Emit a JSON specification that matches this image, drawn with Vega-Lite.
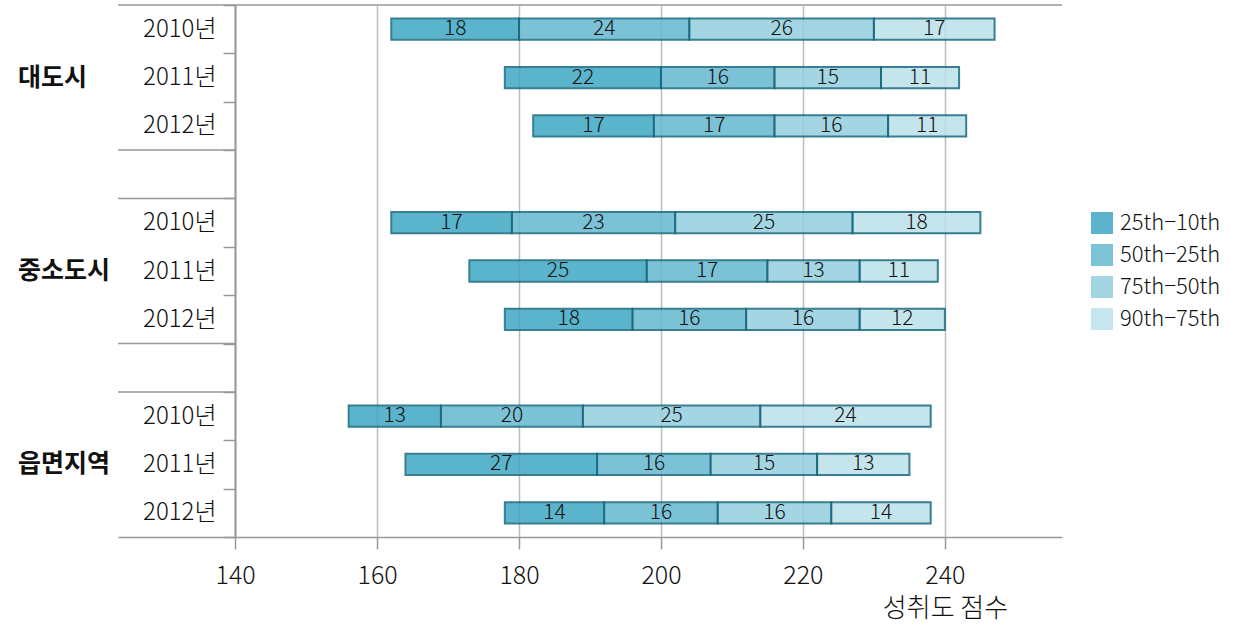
{
  "$schema": "https://vega.github.io/schema/vega-lite/v6.json",
  "width": 944,
  "height": 532,
  "autosize": "none",
  "padding": {"left": 118, "top": 5, "right": 178, "bottom": 89},
  "background": "white",
  "config": {
    "font": "Noto Sans CJK KR",
    "view": {"stroke": null}
  },
  "layer": [
    {
      "data": {"values": [
        {"row": "대도시|2010년", "seg": "base", "k": 0, "v": 162},
        {"row": "대도시|2010년", "seg": "25th−10th", "k": 1, "v": 18},
        {"row": "대도시|2010년", "seg": "50th−25th", "k": 2, "v": 24},
        {"row": "대도시|2010년", "seg": "75th−50th", "k": 3, "v": 26},
        {"row": "대도시|2010년", "seg": "90th−75th", "k": 4, "v": 17},
        {"row": "대도시|2011년", "seg": "base", "k": 0, "v": 178},
        {"row": "대도시|2011년", "seg": "25th−10th", "k": 1, "v": 22},
        {"row": "대도시|2011년", "seg": "50th−25th", "k": 2, "v": 16},
        {"row": "대도시|2011년", "seg": "75th−50th", "k": 3, "v": 15},
        {"row": "대도시|2011년", "seg": "90th−75th", "k": 4, "v": 11},
        {"row": "대도시|2012년", "seg": "base", "k": 0, "v": 182},
        {"row": "대도시|2012년", "seg": "25th−10th", "k": 1, "v": 17},
        {"row": "대도시|2012년", "seg": "50th−25th", "k": 2, "v": 17},
        {"row": "대도시|2012년", "seg": "75th−50th", "k": 3, "v": 16},
        {"row": "대도시|2012년", "seg": "90th−75th", "k": 4, "v": 11},
        {"row": "중소도시|2010년", "seg": "base", "k": 0, "v": 162},
        {"row": "중소도시|2010년", "seg": "25th−10th", "k": 1, "v": 17},
        {"row": "중소도시|2010년", "seg": "50th−25th", "k": 2, "v": 23},
        {"row": "중소도시|2010년", "seg": "75th−50th", "k": 3, "v": 25},
        {"row": "중소도시|2010년", "seg": "90th−75th", "k": 4, "v": 18},
        {"row": "중소도시|2011년", "seg": "base", "k": 0, "v": 173},
        {"row": "중소도시|2011년", "seg": "25th−10th", "k": 1, "v": 25},
        {"row": "중소도시|2011년", "seg": "50th−25th", "k": 2, "v": 17},
        {"row": "중소도시|2011년", "seg": "75th−50th", "k": 3, "v": 13},
        {"row": "중소도시|2011년", "seg": "90th−75th", "k": 4, "v": 11},
        {"row": "중소도시|2012년", "seg": "base", "k": 0, "v": 178},
        {"row": "중소도시|2012년", "seg": "25th−10th", "k": 1, "v": 18},
        {"row": "중소도시|2012년", "seg": "50th−25th", "k": 2, "v": 16},
        {"row": "중소도시|2012년", "seg": "75th−50th", "k": 3, "v": 16},
        {"row": "중소도시|2012년", "seg": "90th−75th", "k": 4, "v": 12},
        {"row": "읍면지역|2010년", "seg": "base", "k": 0, "v": 156},
        {"row": "읍면지역|2010년", "seg": "25th−10th", "k": 1, "v": 13},
        {"row": "읍면지역|2010년", "seg": "50th−25th", "k": 2, "v": 20},
        {"row": "읍면지역|2010년", "seg": "75th−50th", "k": 3, "v": 25},
        {"row": "읍면지역|2010년", "seg": "90th−75th", "k": 4, "v": 24},
        {"row": "읍면지역|2011년", "seg": "base", "k": 0, "v": 164},
        {"row": "읍면지역|2011년", "seg": "25th−10th", "k": 1, "v": 27},
        {"row": "읍면지역|2011년", "seg": "50th−25th", "k": 2, "v": 16},
        {"row": "읍면지역|2011년", "seg": "75th−50th", "k": 3, "v": 15},
        {"row": "읍면지역|2011년", "seg": "90th−75th", "k": 4, "v": 13},
        {"row": "읍면지역|2012년", "seg": "base", "k": 0, "v": 178},
        {"row": "읍면지역|2012년", "seg": "25th−10th", "k": 1, "v": 14},
        {"row": "읍면지역|2012년", "seg": "50th−25th", "k": 2, "v": 16},
        {"row": "읍면지역|2012년", "seg": "75th−50th", "k": 3, "v": 16},
        {"row": "읍면지역|2012년", "seg": "90th−75th", "k": 4, "v": 14}
      ]},
      "transform": [
        {"stack": "v", "groupby": ["row"], "sort": [{"field": "k", "order": "ascending"}], "as": ["x0", "x1"]},
        {"filter": "datum.seg !== 'base'"},
        {"calculate": "(datum.x0 + datum.x1) / 2", "as": "mid"}
      ],
      "layer": [
        {
          "mark": {"type": "bar", "height": {"band": 0.44}, "stroke": "#15697e", "strokeWidth": 2, "opacity": 0.85},
          "encoding": {
            "x": {
              "field": "x0", "type": "quantitative",
              "scale": {"domain": [123.5, 256.5], "nice": false, "zero": false},
              "title": "성취도 점수",
              "axis": {
                "values": [140, 160, 180, 200, 220, 240],
                "grid": true, "gridColor": "#bdbdbd", "gridWidth": 1.5,
                "domainColor": "#999999", "domainWidth": 1.5,
                "tickColor": "#999999", "tickWidth": 1.5, "tickSize": 12,
                "labelFontSize": 25, "labelFontWeight": 300, "labelColor": "#111111", "labelPadding": 14,
                "titleFontSize": 26, "titleFontWeight": 300, "titleColor": "#111111",
                "titleX": 827, "titleAlign": "center", "titlePadding": 7
              }
            },
            "x2": {"field": "x1"},
            "y": {
              "field": "row", "type": "nominal",
              "scale": {
                "domain": ["대도시|2010년", "대도시|2011년", "대도시|2012년", "gap1", "중소도시|2010년", "중소도시|2011년", "중소도시|2012년", "gap2", "읍면지역|2010년", "읍면지역|2011년", "읍면지역|2012년"],
                "paddingInner": 0, "paddingOuter": 0
              },
              "title": null,
              "axis": {
                "orient": "left", "offset": -117,
                "domain": true, "domainColor": "#999999", "domainWidth": 2,
                "tickBand": "extent", "tickSize": 12, "tickColor": "#999999", "tickWidth": 1.5,
                "labelExpr": "indexof('' + datum.label, '|') >= 0 ? split('' + datum.label, '|')[1] : ''",
                "labelFontSize": 24, "labelFontWeight": 300, "labelColor": "#111111", "labelPadding": 7
              }
            },
            "color": {
              "field": "seg", "type": "nominal",
              "scale": {
                "domain": ["25th−10th", "50th−25th", "75th−50th", "90th−75th"],
                "range": ["#3ea7c2", "#65b8cf", "#94cedd", "#bce1eb"]
              },
              "legend": {
                "title": null, "orient": "none", "legendX": 973, "legendY": 207,
                "padding": 0,
                "symbolType": "square", "symbolSize": 484, "symbolStrokeWidth": 0, "symbolOpacity": 0.85,
                "labelFontSize": 22, "labelFontWeight": 300, "labelColor": "#111111", "labelOffset": 7, "rowPadding": 10
              }
            }
          }
        },
        {
          "mark": {"type": "text", "fontSize": 21, "fontWeight": 300, "color": "#111111", "baseline": "middle", "align": "center"},
          "encoding": {
            "x": {"field": "mid", "type": "quantitative"},
            "y": {"field": "row", "type": "nominal"},
            "text": {"field": "v", "type": "quantitative"}
          }
        }
      ]
    },
    {
      "data": {"values": [
        {"row": "대도시|2011년", "label": "대도시"},
        {"row": "중소도시|2011년", "label": "중소도시"},
        {"row": "읍면지역|2011년", "label": "읍면지역"}
      ]},
      "mark": {"type": "text", "fontSize": 25, "fontWeight": "bold", "color": "#111111", "align": "left", "baseline": "middle", "dx": -100},
      "encoding": {
        "x": {"datum": 123.5, "type": "quantitative"},
        "y": {"field": "row", "type": "nominal"},
        "text": {"field": "label", "type": "nominal"}
      }
    },
    {
      "data": {"values": [
        {"row": "gap1", "lo": 123.5, "hi": 140},
        {"row": "중소도시|2010년", "lo": 123.5, "hi": 140},
        {"row": "gap2", "lo": 123.5, "hi": 140},
        {"row": "읍면지역|2010년", "lo": 123.5, "hi": 140},
        {"row": "대도시|2010년", "lo": 123.5, "hi": 256.5}
      ]},
      "mark": {"type": "rule", "color": "#999999", "strokeWidth": 1.5, "yOffset": -24.18},
      "encoding": {
        "x": {"field": "lo", "type": "quantitative"},
        "x2": {"field": "hi"},
        "y": {"field": "row", "type": "nominal"}
      }
    }
  ]
}
